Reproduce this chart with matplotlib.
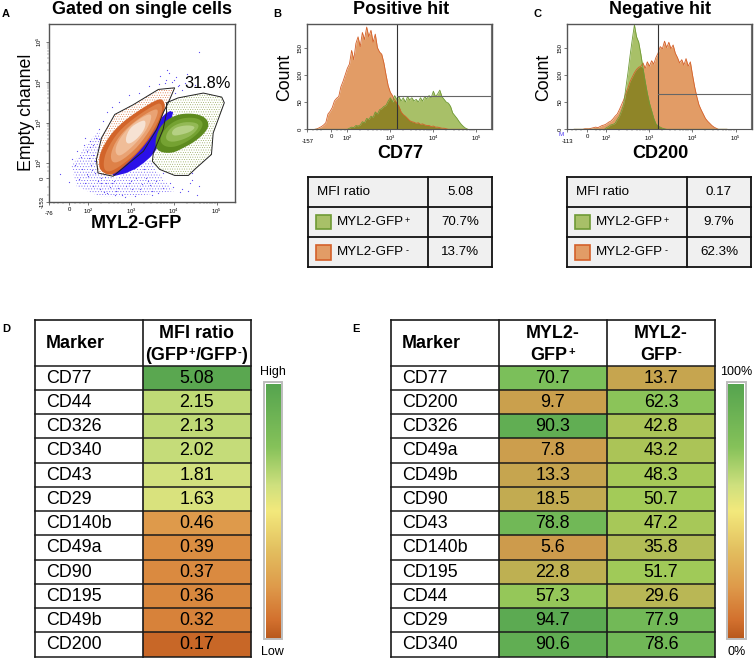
import numpy as np
import matplotlib
matplotlib.use("Agg")
import matplotlib.pyplot as plt
from matplotlib.colors import LinearSegmentedColormap, TwoSlopeNorm, Normalize
from matplotlib.patches import Polygon, Rectangle

plt.rcParams['font.family'] = ['Liberation Sans', 'DejaVu Sans']
plt.rcParams['mathtext.default'] = 'regular'
plt.rcParams['mathtext.fontset'] = 'custom'
plt.rcParams['mathtext.rm'] = 'Liberation Sans'
plt.rcParams['hatch.linewidth'] = 0.3

W, H = 755, 659

# ---------- panel A, in displayed decades ----------
gate_neg = [(2.19,2.08),(2.31,2.62),(2.62,3.2),(3.05,3.44),(3.64,3.82),(4.02,3.86),(3.87,3.49),(3.75,3.24),(3.6,2.83),(3.29,2.29),(2.58,1.67),(2.23,1.75)]
gate_pos = [(3.83,3.49),(4.10,3.61),(4.69,3.73),(5.12,3.63),(5.18,3.49),(4.92,2.74),(4.88,2.21),(4.53,1.88),(4.34,1.69),(4.02,1.69),(3.67,1.84),(3.50,2.04),(3.52,2.25),(3.75,2.83),(3.83,3.24)]
orange_levels = [
    [(2.25,2.0),(2.27,2.25),(2.51,2.70),(2.82,3.03),(3.21,3.32),(3.60,3.57),(3.75,3.58),(3.81,3.36),(3.67,2.99),(3.40,2.54),(3.05,2.12),(2.62,1.71),(2.43,1.71),(2.27,1.83)],
    [(2.35,2.0),(2.43,2.33),(2.70,2.78),(3.13,3.16),(3.60,3.47),(3.71,3.47),(3.74,3.28),(3.56,2.87),(3.25,2.37),(2.86,2.0),(2.55,1.79),(2.39,1.79)],
    [(2.51,2.17),(2.62,2.50),(2.86,2.83),(3.25,3.16),(3.60,3.36),(3.64,3.24),(3.48,2.87),(3.17,2.41),(2.82,2.08),(2.58,1.98)],
    [(2.62,2.33),(2.74,2.62),(3.01,2.95),(3.36,3.20),(3.50,3.20),(3.40,2.87),(3.13,2.50),(2.82,2.21),(2.68,2.17)],
    [(2.86,2.58),(2.97,2.87),(3.21,3.03),(3.35,3.06),(3.32,2.83),(3.13,2.58),(2.93,2.45)],
]
orange_level_colors = ['#d2642a', '#de8148', '#e9a273', '#f0bd98', '#f6e2d3']
green_levels = [
    [(3.56,2.50),(3.64,2.83),(3.83,3.07),(4.14,3.22),(4.53,3.22),(4.76,3.11),(4.83,2.92),(4.69,2.70),(4.45,2.50),(4.22,2.37),(3.99,2.25),(3.75,2.25),(3.60,2.33)],
    [(3.67,2.54),(3.75,2.79),(3.95,3.0),(4.22,3.12),(4.53,3.12),(4.70,3.0),(4.61,2.77),(4.34,2.54),(4.03,2.39),(3.79,2.40)],
    [(3.79,2.62),(3.91,2.87),(4.18,3.01),(4.49,3.01),(4.61,2.92),(4.45,2.70),(4.18,2.56),(3.91,2.51)],
    [(3.95,2.78),(4.06,2.89),(4.34,2.94),(4.52,2.89),(4.38,2.76),(4.10,2.68),(3.97,2.68)],
]
green_level_colors = ['#5d8a1e', '#75a232', '#93b955', '#b5d084']
blue_core = [(2.47,1.64),(3.01,1.78),(3.40,2.08),(3.60,2.33),(3.7,2.6),(4.02,3.24),(3.88,3.3),(3.6,3.0),(3.2,2.4),(2.8,2.0)]
blue_cloud = [(1.61,1.92),(1.96,2.45),(2.25,2.8),(2.6,1.6),(3.5,2.1),(3.6,1.8),(4.0,1.3),(3.05,1.17),(2.27,1.17),(1.73,1.42)]
blue_x = [1.35,1.55,1.62,1.7,1.74,1.78,1.83,1.86,1.9,1.93,1.97,2.0,2.03,2.06,2.1,2.12,2.15,2.18,2.22,2.25,2.28,2.3,2.34,2.38,2.42,2.45,2.5,2.55,2.6,2.66,2.72,2.8,2.88,2.95,3.02,3.1,3.18,3.26,3.34,3.42,3.5,3.58,3.66,3.74,3.82,3.9,3.98,4.05,4.12,4.2,4.3,4.42,4.55,3.72,3.8,3.88,3.95,4.02,4.1,4.18,3.6,3.68,4.25,4.32,4.42,3.85,4.0,4.6,3.5,3.4,3.3,3.2,2.95,2.85,2.75,2.7,2.62,2.4,2.2,2.05,1.92,2.02,2.12,2.26,1.96,2.08,2.16,3.12,3.62,3.92,4.5,4.60,2.55,2.45,2.3,3.0,3.45,3.75,4.15,4.38]
blue_y = [1.72,1.52,2.1,1.95,2.3,1.6,2.15,1.85,2.45,1.5,2.3,1.68,2.55,1.95,1.42,2.2,1.75,2.62,1.55,2.85,1.35,1.62,3.05,1.28,1.5,3.25,1.4,3.38,1.55,1.3,3.5,1.2,1.42,3.68,1.35,1.18,3.72,1.48,1.62,3.9,1.3,1.55,3.95,1.75,4.05,3.85,1.4,4.12,3.92,1.35,4.2,1.58,1.2,3.8,3.98,4.22,4.0,3.72,3.9,3.8,3.75,4.15,3.98,1.3,1.75,4.3,4.05,1.42,1.2,1.55,1.85,1.35,1.5,1.15,1.75,1.38,1.2,1.65,1.95,2.4,2.62,2.12,2.45,2.6,1.72,1.82,2.05,1.62,1.25,1.5,3.92,4.74,1.5,1.25,1.5,1.55,1.45,1.38,1.28,1.5]

# ---------- histograms (B, C) ----------
hist_edges = [1.25,1.30,1.35,1.40,1.45,1.50,1.55,1.60,1.65,1.70,1.75,1.80,1.85,1.90,1.95,2.00,2.05,2.10,2.15,2.20,2.25,2.30,2.35,2.40,2.45,2.50,2.55,2.60,2.65,2.70,2.75,2.80,2.85,2.90,2.95,3.00,3.05,3.10,3.15,3.20,3.25,3.30,3.35,3.40,3.45,3.50,3.55,3.60,3.65,3.70,3.75,3.80,3.85,3.90,3.95,4.00,4.05,4.10,4.15,4.20,4.25,4.30,4.35,4.40,4.45,4.50,4.55,4.60,4.65,4.70,4.75,4.80]
b_neg = [0,1,3,5,8,12,28,33,40,52,57,60,78,88,100,112,120,145,128,158,170,152,178,165,188,170,182,160,175,150,142,138,122,100,80,68,62,54,48,42,32,27,24,20,16,14,13,11,12,9,10,8,7,7,5,6,4,4,3,2,2,1,0,0,0,0,0,0,0,0,0,0]
b_pos = [0,0,0,0,0,0,0,0,0,0,0,0,0,0,0,0,2,4,3,7,6,8,14,12,20,18,24,22,32,28,36,38,42,44,52,58,50,62,55,60,52,58,50,60,54,58,52,55,50,58,52,60,56,62,58,70,60,65,72,60,55,50,48,42,30,25,20,14,9,5,2,0]
c_neg = [0,0,0,0,0,1,1,1,2,3,4,3,5,7,8,10,13,15,19,24,28,36,45,54,66,76,88,96,104,110,114,116,122,112,124,116,126,120,132,140,152,148,162,150,160,148,155,140,132,122,128,118,130,116,124,100,78,60,45,36,28,20,15,11,7,4,2,0,0,0,0,0]
c_pos = [0,0,0,0,0,0,0,0,0,0,0,0,0,0,0,3,5,8,9,11,18,24,34,46,76,104,136,165,192,170,160,138,112,88,66,48,34,20,10,6,4,2,1,0,0,0,0,0,0,0,0,0,0,0,0,0,0,0,0,0,0,0,0,0,0,0,0,0,0,0,0,0]
count_ticks = [0, 50, 100, 150]

hist_panels = {
    'B': dict(neg=b_neg, pos=b_pos, xlim=(1.07, 5.37), gate_x=3.16, gate_y=62, right=5.34, low='-157', tick0=1.62),
    'C': dict(neg=c_neg, pos=c_pos, xlim=(1.09, 5.39), gate_x=3.19, gate_y=65, right=5.35, low='-113', tick0=1.55),
}

# ---------- tables ----------
mfi_markers = ['CD77','CD44','CD326','CD340','CD43','CD29','CD140b','CD49a','CD90','CD195','CD49b','CD200']
mfi_values = [5.08,2.15,2.13,2.02,1.81,1.63,0.46,0.39,0.37,0.36,0.32,0.17]
pct_markers = ['CD77','CD200','CD326','CD49a','CD49b','CD90','CD43','CD140b','CD195','CD44','CD29','CD340']
pct_pos = [70.7,9.7,90.3,7.8,13.3,18.5,78.8,5.6,22.8,57.3,94.7,90.6]
pct_neg = [13.7,62.3,42.8,43.2,48.3,50.7,47.2,35.8,51.7,29.6,77.9,78.6]
small_b = ['5.08','70.7%','13.7%']
small_c = ['0.17','9.7%','62.3%']

bar_cmap = LinearSegmentedColormap.from_list('bar', [(0,'#b8591d'),(0.07,'#d2702e'),(0.2,'#de994a'),(0.35,'#e3c060'),(0.5,'#f3e97c'),(0.6,'#cfe07e'),(0.75,'#86c25a'),(1,'#55a44f')])
pct_cmap = LinearSegmentedColormap.from_list('pct', [(0,'#d2954a'),(0.3,'#b8b855'),(0.5,'#a4cb58'),(0.7,'#7cc05a'),(1,'#55a650')])
mfi_norm = TwoSlopeNorm(vmin=0.09, vcenter=1, vmax=5.35)
pct_norm = Normalize(0, 100)

GREEN_FILL, GREEN_EDGE = '#a8c068', '#6f9a35'
ORANGE_FILL, ORANGE_EDGE = '#e29c66', '#d4602a'
OVERLAP = '#8f8528'

fig = plt.figure(figsize=(W/100, H/100), dpi=100)

def px_axes(x0, y0, x1, y1, **kw):
    return fig.add_axes([x0/W, 1-y1/H, (x1-x0)/W, (y1-y0)/H], **kw)

def chaikin(pts, n=2):
    p = np.asarray(pts, float)
    for _ in range(n):
        q = np.roll(p, -1, axis=0)
        p = np.column_stack([0.75*p + 0.25*q, 0.25*p + 0.75*q]).reshape(-1, 2)
    return p

def minor_positions(lo, hi):
    out = []
    for d in range(lo, hi):
        out += [d + np.log10(k) for k in range(2, 10)]
    return out

def style_flow(ax):
    for s in ax.spines.values():
        s.set_color('#555555')
        s.set_linewidth(1.0)
    ax.tick_params(which='major', length=2.5, width=0.5, color='#444444', labelsize=4.3, pad=1)
    ax.tick_params(which='minor', length=1.3, width=0.3, color='#555555')
    ax.xaxis.get_major_ticks()[0].set_pad(4.5)

ov = fig.add_axes([0, 0, 1, 1], zorder=5)
ov.set_xlim(0, W); ov.set_ylim(H, 0); ov.axis('off')

def T(x, y, s, size=10, weight='normal', ha='center', va='center', rot=0, color='black'):
    return ov.text(x, y, s, fontsize=size, fontweight=weight, ha=ha, va=va, rotation=rot, color=color)

def runs(xc, y, parts, size, weight='bold'):
    """Centre a line made of normal and superscript pieces at xc."""
    rend = fig.canvas.get_renderer()
    items, total = [], 0
    for s, sup in parts:
        t = T(0, y - (2.5 if sup else 0), s, size*(0.62 if sup else 1), weight, ha='left')
        w = t.get_window_extent(rend).width
        items.append((t, total)); total += w + 0.3
    for t, off in items:
        t.set_x(xc - total/2 + off)

# ---------- A ----------
axA = px_axes(49.3, 24, 235, 201.7)
axA.set_xlim(1.09, 5.43); axA.set_ylim(1.04, 5.44)
axA.add_patch(Polygon(blue_cloud, closed=True, facecolor='none', edgecolor='#6a58f5', hatch='......', lw=0))
axA.scatter(blue_x, blue_y, s=0.8, color='#5a48f2', linewidths=0)
axA.add_patch(Polygon(gate_pos, closed=True, facecolor='white', edgecolor='#8aa04a', hatch='.......', lw=0))
axA.add_patch(Polygon(gate_neg, closed=True, facecolor='white', edgecolor='#d86a30', hatch='.......', lw=0))
axA.add_patch(Polygon(chaikin(blue_core, 1), closed=True, facecolor='#2a10e8', edgecolor='none'))
for poly, c in zip(orange_levels, orange_level_colors):
    axA.add_patch(Polygon(chaikin(poly), closed=True, facecolor=c, edgecolor='none'))
for poly, c in zip(green_levels, green_level_colors):
    axA.add_patch(Polygon(chaikin(poly), closed=True, facecolor=c, edgecolor='none'))
for gate in (gate_neg, gate_pos):
    axA.add_patch(Polygon(gate, closed=True, facecolor='none', edgecolor='#222222', lw=0.7))
axA.set_xticks([1.09, 1.55, 2, 3, 4, 5], ['-76', '0', '10$^{2}$', '10$^{3}$', '10$^{4}$', '10$^{5}$'])
axA.set_yticks([1.04, 1.63, 2, 3, 4, 5], ['-153', '0', '10$^{2}$', '10$^{3}$', '10$^{4}$', '10$^{5}$'])
axA.set_xticks(minor_positions(2, 5) + [1.2, 1.3, 1.4, 1.7, 1.8, 1.9], minor=True)
axA.set_yticks(minor_positions(2, 5) + [1.2, 1.4, 1.8, 1.9], minor=True)
for lab in axA.get_yticklabels():
    lab.set_rotation(90); lab.set_va('center')
style_flow(axA)

# ---------- B, C ----------
for key, (x0, x1) in {'B': (307.3, 492.3), 'C': (567.3, 752.3)}.items():
    cfg = hist_panels[key]
    ax = px_axes(x0, 24.3, x1, 129.3)
    neg, pos = np.array(cfg['neg']), np.array(cfg['pos'])
    edges = np.array(hist_edges)
    ax.fill_between(edges, 0, neg, color=ORANGE_FILL, lw=0)
    ax.fill_between(edges, 0, pos, color=GREEN_FILL, lw=0)
    ax.fill_between(edges, 0, np.minimum(neg, pos), color=OVERLAP, lw=0)
    ax.plot(edges, neg, color=ORANGE_EDGE, lw=0.6)
    ax.plot(edges, pos, color=GREEN_EDGE, lw=0.6)
    ax.set_xlim(*cfg['xlim']); ax.set_ylim(0, 193)
    ax.plot([cfg['gate_x']]*2, [0, 193], color='#333333', lw=0.8)
    ax.plot([cfg['gate_x'], cfg['right']], [cfg['gate_y']]*2, color='#666666', lw=0.8)
    ax.plot([cfg['right']]*2, [0, 193], color='#777777', lw=0.8)
    ax.set_xticks([cfg['xlim'][0], cfg['tick0'], 2, 3, 4, 5], [cfg['low'], '0', '10$^{2}$', '10$^{3}$', '10$^{4}$', '10$^{5}$'])
    ax.set_xticks(minor_positions(2, 5) + [1.2, 1.3, 1.4, 1.75, 1.85, 1.95], minor=True)
    ax.set_yticks(count_ticks, [str(v) for v in count_ticks])
    for lab in ax.get_yticklabels():
        lab.set_rotation(90); lab.set_va('center')
    style_flow(ax)
    ax.spines['bottom'].set_linewidth(0.8)

ov.text(561.5, 134.3, 'M', fontsize=4.5, color='#4a35f0', ha='center', va='center')

# ---------- free text ----------
T(141.7, 9.5, 'Gated on single cells', 13, 'bold')
T(401, 9.5, 'Positive hit', 13, 'bold')
T(660, 9.5, 'Negative hit', 13, 'bold')
T(6, 14, 'A', 8, 'bold'); T(277.5, 14, 'B', 8, 'bold'); T(537.7, 14, 'C', 8, 'bold')
T(6, 329, 'D', 8, 'bold'); T(356, 329, 'E', 8, 'bold')
T(136, 224, 'MYL2-GFP', 13, 'bold')
T(400.7, 153.3, 'CD77', 13, 'bold'); T(660, 153.3, 'CD200', 13, 'bold')
T(26.7, 112.7, 'Empty channel', 12.8, rot=90)
T(285, 77, 'Count', 12.8, rot=90); T(543.3, 77, 'Count', 12.8, rot=90)
T(207.5, 84, '31.8%', 11.8)

# ---------- small tables ----------
def small_table(xs, rows, swx, vals):
    ys = [176.7, 206.7, 237, 266.7]
    ov.add_patch(Rectangle((xs[0], ys[0]), xs[2]-xs[0], ys[3]-ys[0], facecolor='#f0f0f0', edgecolor='none'))
    for y in ys:
        ov.plot([xs[0], xs[2]], [y, y], color='#111111', lw=1.3, solid_capstyle='projecting')
    for x in xs:
        ov.plot([x, x], [ys[0], ys[3]], color='#111111', lw=1.3, solid_capstyle='projecting')
    T(swx + 1.5, 192.3, 'MFI ratio', 9.6, ha='left')
    T((xs[1]+xs[2])/2, 192.3, vals[0], 9.6)
    for i, (fc, ec, lab) in enumerate(rows):
        yc = 222 + 30.4*i
        ov.add_patch(Rectangle((swx, yc-7.2), 15, 14.4, facecolor=fc, edgecolor=ec, lw=1.2))
        T(swx + 21, yc, 'MYL2-GFP', 9.6, ha='left')
        T(swx + 91.5, yc - 2, lab, 6.5)
        T((xs[1]+xs[2])/2, yc, vals[i+1], 9.6)

rows_small = [(GREEN_FILL, GREEN_EDGE, '+'), (ORANGE_FILL, ORANGE_EDGE, '-')]
small_table([308.3, 427.7, 492.3], rows_small, 315.7, small_b)
small_table([567.3, 686.7, 751.3], rows_small, 574.7, small_c)

# ---------- big tables ----------
TOP, HEAD = 320, 365.7
RH = 24.25

def big_table(xs, markers, columns, headers):
    n = len(markers)
    bottom = HEAD + RH*n
    for i, m in enumerate(markers):
        y = HEAD + RH*i
        T(xs[0] + 11, y + RH/2 + 0.3, m, 12.9, ha='left')
        for j, (vals, fmt, cmap, norm) in enumerate(columns):
            v = vals[i]
            ov.add_patch(Rectangle((xs[j+1], y), xs[j+2]-xs[j+1], RH, facecolor=cmap(norm(v)), edgecolor='none'))
            T((xs[j+1]+xs[j+2])/2, y + RH/2 + 0.3, fmt % v, 12.9)
    for k in range(n+1):
        y = HEAD + RH*k
        ov.plot([xs[0], xs[-1]], [y, y], color='#1a1a1a', lw=1.1)
    ov.plot([xs[0], xs[-1]], [TOP, TOP], color='#1a1a1a', lw=1.2)
    for x in xs:
        ov.plot([x, x], [TOP, bottom], color='#1a1a1a', lw=1.2, solid_capstyle='projecting')
    T(xs[0] + 11, (TOP+HEAD)/2 + 1, 'Marker', 12.9, 'bold', ha='left')
    for j, lines in enumerate(headers):
        xc = (xs[j+1]+xs[j+2])/2
        runs(xc, 333.5, lines[0], 12.9)
        runs(xc, 355, lines[1], 12.9)

big_table([34.7, 142.7, 251], mfi_markers, [(mfi_values, '%.2f', bar_cmap, mfi_norm)],
          [([('MFI ratio', False)], [('(GFP', False), ('+', True), ('/GFP', False), ('-', True), (')', False)])])
big_table([390.7, 498.7, 607, 715], pct_markers,
          [(pct_pos, '%.1f', pct_cmap, pct_norm), (pct_neg, '%.1f', pct_cmap, pct_norm)],
          [([('MYL2-', False)], [('GFP', False), ('+', True)]), ([('MYL2-', False)], [('GFP', False), ('-', True)])])

# ---------- colour bars ----------
gradient = np.linspace(1, 0, 256).reshape(-1, 1)
for x0, x1, top, low in [(264, 281.7, 'High', 'Low'), (726.7, 745.7, '100%', '0%')]:
    ax = px_axes(x0+1.5, 383.5, x1-1.5, 638.5)
    ax.imshow(gradient, aspect='auto', cmap=bar_cmap, vmin=0, vmax=1)
    ax.set_xticks([]); ax.set_yticks([])
    for s in ax.spines.values():
        s.set_visible(False)
    ov.add_patch(Rectangle((x0, 382.3), x1-x0, 257, facecolor='none', edgecolor='#bdbdbd', lw=1.4))
    T((x0+x1)/2, 371.7, top, 9)
    T((x0+x1)/2, 651.7, low, 9)

fig.savefig('out.png', dpi=100)
